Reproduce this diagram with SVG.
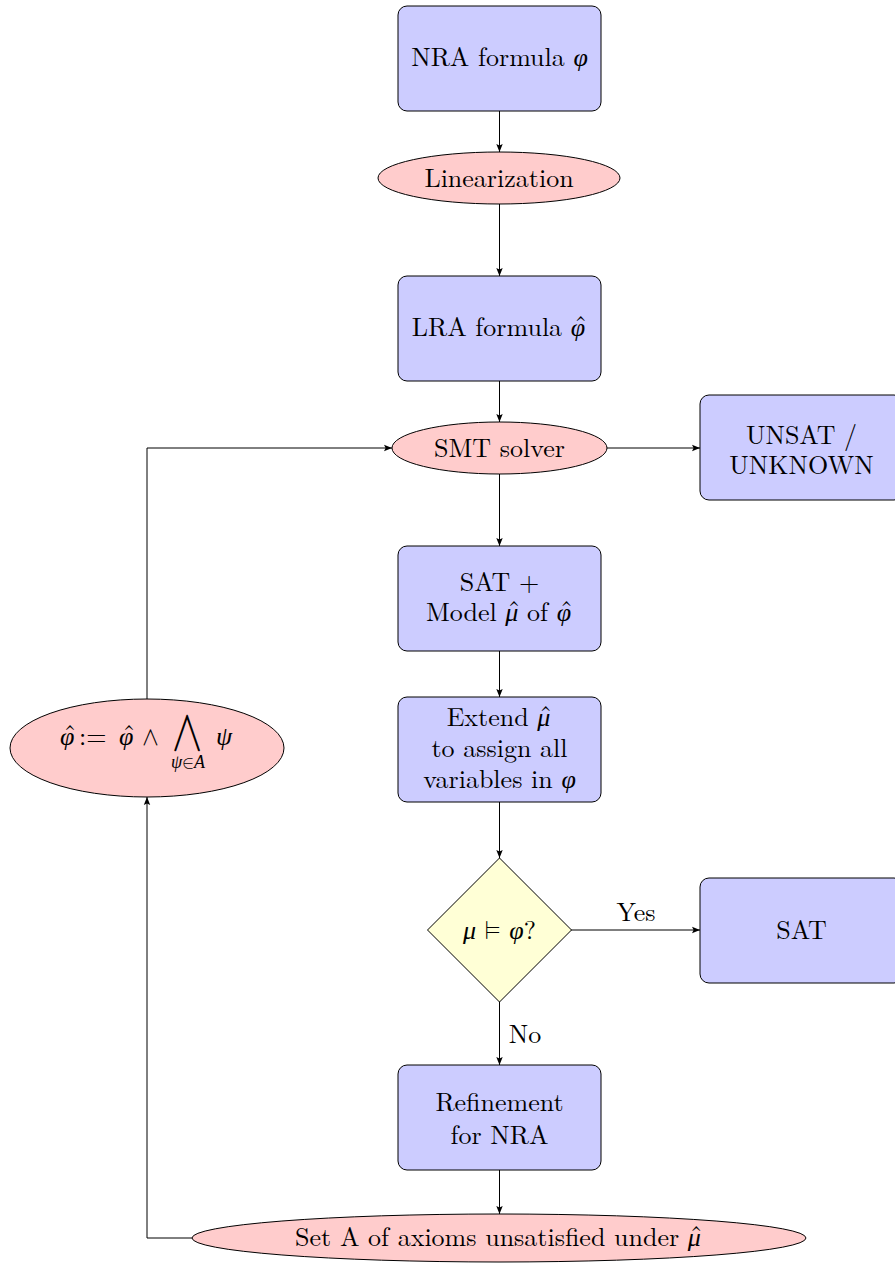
<svg xmlns="http://www.w3.org/2000/svg" width="895" height="1263" viewBox="0 0 895 1263">
<style>
.box{fill:#ccccff;stroke:#000;stroke-width:1}
.ell{fill:#ffcccc;stroke:#000;stroke-width:1}
.dia{fill:#ffffd6;stroke:#000;stroke-width:1}
.con{fill:none;stroke:#000;stroke-width:1;marker-end:url(#arr)}
.t{font-family:"Latin Modern Roman","Liberation Serif",serif;font-size:26px;fill:#000}
.c{text-anchor:middle}
.m{font-style:italic;font-family:"Liberation Serif",serif}
.op{font-family:"Latin Modern Math","DejaVu Serif",serif;font-style:normal}
.sub{font-size:18px}
</style>
<defs>
<marker id="arr" markerUnits="userSpaceOnUse" markerWidth="10" markerHeight="10" refX="8" refY="4" orient="auto">
<path d="M0,0.8 L8,4 L0,7.2 L1.6,4 z" fill="#000"/>
</marker>
</defs>
<g id="connectors">
<path class="con" d="M499.5,111 V152"/>
<path class="con" d="M499.5,204 V276"/>
<path class="con" d="M499.5,381 V422"/>
<path class="con" d="M607,448 H700"/>
<path class="con" d="M499.5,474 V546"/>
<path class="con" d="M499.5,651 V697"/>
<path class="con" d="M499.5,802 V858"/>
<path class="con" d="M571,930 H700"/>
<path class="con" d="M499.5,1002 V1065"/>
<path class="con" d="M499.5,1170 V1214"/>
<path class="con" d="M192,1238 H147 V797"/>
<path class="con" d="M147,699 V448 H392"/>
<text class="t c" x="636" y="921">Yes</text>
<text class="t c" x="525" y="1043">No</text>
</g>
<g id="nra">
<rect class="box" x="398" y="6" width="203" height="105" rx="9"/>
<text class="t c" x="499.5" y="66">NRA formula <tspan class="m">φ</tspan></text>
</g>
<g id="linearization">
<ellipse class="ell" cx="499" cy="178" rx="121" ry="26"/>
<text class="t c" x="499" y="187">Linearization</text>
</g>
<g id="lra">
<rect class="box" x="398" y="276" width="203" height="105" rx="9"/>
<text class="t c" x="499.5" y="336">LRA formula <tspan class="m">φ</tspan><tspan dx="-11" dy="-2">ˆ</tspan><tspan dx="-2" dy="2"> </tspan></text>
</g>
<g id="smt">
<ellipse class="ell" cx="499.5" cy="448" rx="107.5" ry="26"/>
<text class="t c" x="499.5" y="457">SMT solver</text>
</g>
<g id="unsat">
<rect class="box" x="700" y="395" width="203" height="105" rx="9"/>
<text class="t c" x="801.5" y="444">UNSAT /</text>
<text class="t c" x="801.5" y="474">UNKNOWN</text>
</g>
<g id="satmodel">
<rect class="box" x="398" y="546" width="203" height="105" rx="9"/>
<text class="t c" x="499.5" y="591">SAT +</text>
<text class="t c" x="499.5" y="621">Model <tspan class="m">μ</tspan><tspan dx="-11" dy="-2">ˆ</tspan><tspan dx="-2" dy="2"> of </tspan><tspan class="m">φ</tspan><tspan dx="-11" dy="-2">ˆ</tspan><tspan dx="-2" dy="2"> </tspan></text>
</g>
<g id="extend">
<rect class="box" x="398" y="697" width="203" height="105" rx="9"/>
<text class="t c" x="499.5" y="726">Extend <tspan class="m">μ</tspan><tspan dx="-11" dy="-2">ˆ</tspan><tspan dx="-2" dy="2"> </tspan></text>
<text class="t c" x="499.5" y="757">to assign all</text>
<text class="t c" x="499.5" y="788">variables in <tspan class="m">φ</tspan></text>
</g>
<g id="check">
<polygon class="dia" points="499.5,858 571.5,930 499.5,1002 427.5,930"/>
<text class="t c" x="499.5" y="939"><tspan class="m">μ</tspan> <tspan class="op">⊨</tspan> <tspan class="m">φ</tspan>?</text>
</g>
<g id="sat">
<rect class="box" x="700" y="878" width="203" height="105" rx="9"/>
<text class="t c" x="801.5" y="939">SAT</text>
</g>
<g id="refinement">
<rect class="box" x="398" y="1065" width="203" height="105" rx="9"/>
<text class="t c" x="499.5" y="1111">Refinement</text>
<text class="t c" x="499.5" y="1144">for NRA</text>
</g>
<g id="setA">
<ellipse class="ell" cx="499" cy="1238" rx="307" ry="24"/>
<text class="t c" x="499" y="1246">Set A of axioms unsatisfied under <tspan class="m">μ</tspan><tspan dx="-11" dy="-2">ˆ</tspan><tspan dx="-2" dy="2"> </tspan></text>
</g>
<g id="update">
<ellipse class="ell" cx="147" cy="748" rx="137" ry="49"/>
<text class="t" x="60" y="745"><tspan class="m">φ</tspan><tspan dx="-11" dy="-2">ˆ</tspan></text>
<text class="t" x="79" y="745">:=</text>
<text class="t" x="119" y="745"><tspan class="m">φ</tspan><tspan dx="-11" dy="-2">ˆ</tspan></text>
<text class="t op c" x="150.5" y="745">∧</text>
<text class="t op c" x="187" y="742" style="font-size:35px">⋀</text>
<text class="t m" x="216" y="745">ψ</text>
<text class="t c sub" x="188" y="768"><tspan class="m">ψ</tspan><tspan class="op">∈</tspan><tspan class="m">A</tspan></text>
</g>
</svg>
